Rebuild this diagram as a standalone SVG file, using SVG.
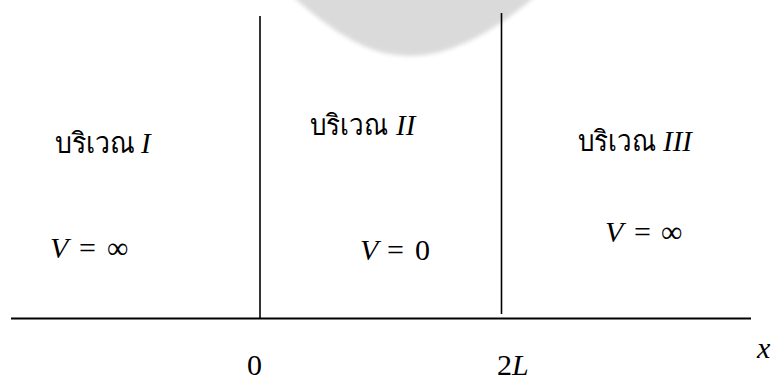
<svg xmlns="http://www.w3.org/2000/svg" width="774" height="381" viewBox="0 0 774 381">
<style>
.t{font-family:"Liberation Serif","Times New Roman",serif;font-size:30px;fill:#000}
.th{font-size:29px}
.i{font-style:italic}
.r{font-size:29px;font-style:italic}
.ln{stroke:#000;fill:none}
</style>
<defs>
<filter id="soft" x="-10%" y="-10%" width="120%" height="130%"><feGaussianBlur stdDeviation="2"/></filter>
</defs>
<rect width="774" height="381" fill="#fff"/>
<path id="watermark" d="M292,-4 C322,22 350,44 384,53 Q410,59 436,53 C472,44 505,22 536,-4 Z" fill="#dadada" filter="url(#soft)"/>
<g id="axes">
<line class="ln" x1="11" y1="318.5" x2="751" y2="318.5" stroke-width="2"/>
<line class="ln" x1="260" y1="16" x2="260" y2="318" stroke-width="1.6"/>
<line class="ln" x1="501.5" y1="13" x2="501.5" y2="314" stroke-width="1.6"/>
</g>
<g id="region1">
<text class="t th" x="55" y="153" textLength="80" lengthAdjust="spacingAndGlyphs">บริเวณ</text>
<text class="t r" x="141" y="153">I</text>
<text class="t" y="258"><tspan class="i" x="50">V</tspan><tspan x="79">=</tspan><tspan x="107">∞</tspan></text>
</g>
<g id="region2">
<text class="t th" x="310" y="135" textLength="78" lengthAdjust="spacingAndGlyphs">บริเวณ</text>
<text class="t r" x="396" y="135">II</text>
<text class="t" y="260"><tspan class="i" x="360">V</tspan><tspan x="387">=</tspan><tspan x="415">0</tspan></text>
</g>
<g id="region3">
<text class="t th" x="578" y="150.5" textLength="78" lengthAdjust="spacingAndGlyphs">บริเวณ</text>
<text class="t r" x="663" y="150.5">III</text>
<text class="t" y="242"><tspan class="i" x="605">V</tspan><tspan x="634">=</tspan><tspan x="661">∞</tspan></text>
</g>
<g id="ticks">
<text class="t" x="247" y="375">0</text>
<text class="t" x="497" y="375">2<tspan class="i">L</tspan></text>
<text class="t i" x="757" y="358">x</text>
</g>
</svg>
